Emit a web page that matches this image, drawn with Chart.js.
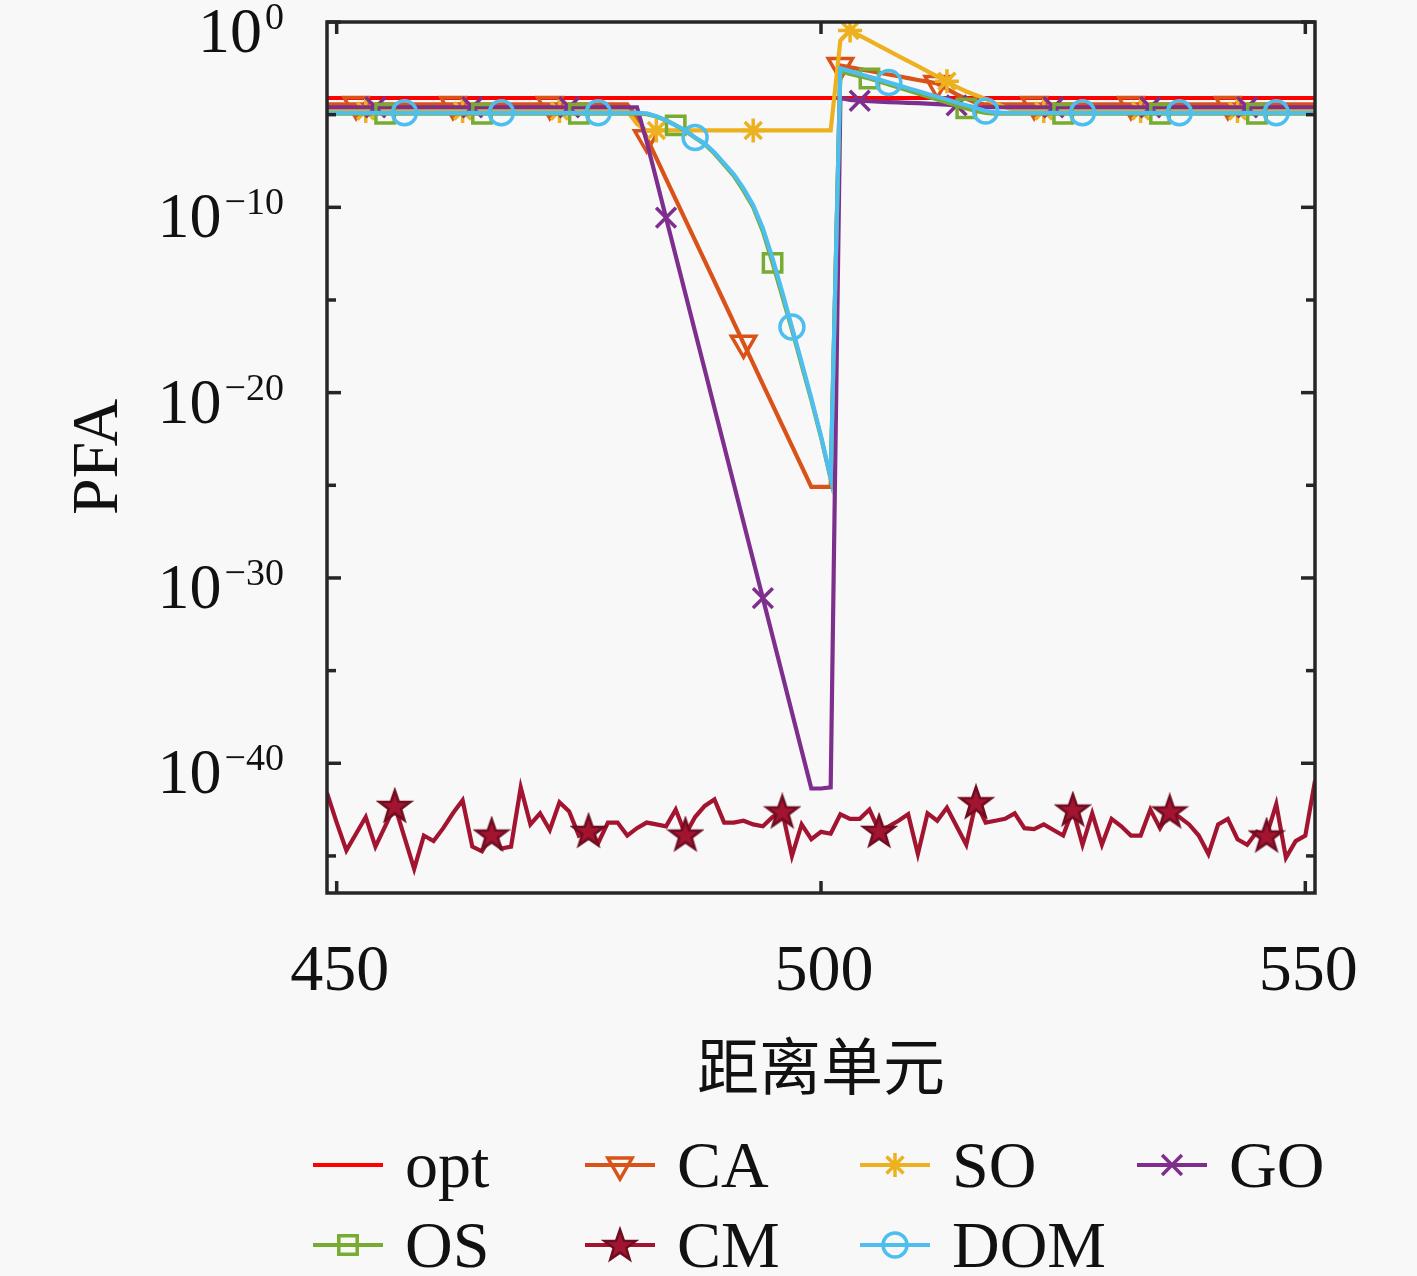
<!DOCTYPE html>
<html>
<head>
<meta charset="utf-8">
<title>PFA</title>
<script src="https://cdn.jsdelivr.net/npm/chart.js@4.4.1/dist/chart.umd.min.js"></script>
<style>
  html, body { margin: 0; padding: 0; background: #f8f8f8; }
  #wrap { width: 1417px; height: 1276px; }
</style>
</head>
<body>
<div id="wrap"><canvas id="chart" width="1417" height="1276"></canvas></div>
<script>
// range cells 449..551, one value per cell
const cells = Array.from({ length: 103 }, (_, i) => 449 + i);

// values are log10(PFA)
const optCells = [449, 551];
const optLog = [-4.1, -4.1];

const caLog = [
  -4.45,
  -4.45, -4.45, -4.45, -4.45, -4.45, -4.45, -4.45, -4.45, -4.45, -4.45,
  -4.45, -4.45, -4.45, -4.45, -4.45, -4.45, -4.45, -4.45, -4.45, -4.45,
  -4.45, -4.45, -4.45, -4.45, -4.45, -4.45, -4.45, -4.45, -4.45, -4.45,
  -4.45, -5.13, -6.24, -7.35, -8.46, -9.57, -10.68, -11.78, -12.89, -14.0,
  -15.11, -16.22, -17.33, -18.44, -19.55, -20.66, -21.77, -22.87, -23.98, -25.09,
  -25.09, -25.09, -2.35, -2.45, -2.54, -2.64, -2.74, -2.83, -2.93, -3.03,
  -3.13, -3.22, -3.32, -3.6, -3.9, -4.15, -4.35, -4.45, -4.45, -4.45,
  -4.45, -4.45, -4.45, -4.45, -4.45, -4.45, -4.45, -4.45, -4.45, -4.45,
  -4.45, -4.45, -4.45, -4.45, -4.45, -4.45, -4.45, -4.45, -4.45, -4.45,
  -4.45, -4.45, -4.45, -4.45, -4.45, -4.45, -4.45, -4.45, -4.45, -4.45,
  -4.45, -4.45
];

const soLog = [
  -4.8,
  -4.8, -4.8, -4.8, -4.8, -4.8, -4.8, -4.8, -4.8, -4.8, -4.8,
  -4.8, -4.8, -4.8, -4.8, -4.8, -4.8, -4.8, -4.8, -4.8, -4.8,
  -4.8, -4.8, -4.8, -4.8, -4.8, -4.8, -4.8, -4.8, -4.8, -4.8,
  -4.8, -5.5, -5.85, -5.85, -5.85, -5.85, -5.85, -5.85, -5.85, -5.85,
  -5.85, -5.85, -5.85, -5.85, -5.85, -5.85, -5.85, -5.85, -5.85, -5.85,
  -5.85, -5.85, -1.0, -0.46, -0.74, -1.01, -1.29, -1.56, -1.84, -2.11,
  -2.38, -2.66, -2.93, -3.2, -3.5, -3.75, -3.95, -4.15, -4.4, -4.6,
  -4.75, -4.8, -4.8, -4.8, -4.8, -4.8, -4.8, -4.8, -4.8, -4.8,
  -4.8, -4.8, -4.8, -4.8, -4.8, -4.8, -4.8, -4.8, -4.8, -4.8,
  -4.8, -4.8, -4.8, -4.8, -4.8, -4.8, -4.8, -4.8, -4.8, -4.8,
  -4.8, -4.8
];

const goLog = [
  -4.6,
  -4.6, -4.6, -4.6, -4.6, -4.6, -4.6, -4.6, -4.6, -4.6, -4.6,
  -4.6, -4.6, -4.6, -4.6, -4.6, -4.6, -4.6, -4.6, -4.6, -4.6,
  -4.6, -4.6, -4.6, -4.6, -4.6, -4.6, -4.6, -4.6, -4.6, -4.6,
  -4.6, -4.6, -6.45, -8.5, -10.56, -12.61, -14.66, -16.72, -18.77, -20.83,
  -22.88, -24.93, -26.99, -29.04, -31.09, -33.15, -35.2, -37.26, -39.31, -41.36,
  -41.36, -41.3, -4.1, -4.2, -4.25, -4.27, -4.3, -4.32, -4.34, -4.36,
  -4.38, -4.4, -4.43, -4.46, -4.5, -4.55, -4.6, -4.6, -4.6, -4.6,
  -4.6, -4.6, -4.6, -4.6, -4.6, -4.6, -4.6, -4.6, -4.6, -4.6,
  -4.6, -4.6, -4.6, -4.6, -4.6, -4.6, -4.6, -4.6, -4.6, -4.6,
  -4.6, -4.6, -4.6, -4.6, -4.6, -4.6, -4.6, -4.6, -4.6, -4.6,
  -4.6, -4.6
];

const osLog = [
  -4.95,
  -4.95, -4.95, -4.95, -4.95, -4.95, -4.95, -4.95, -4.95, -4.95, -4.95,
  -4.95, -4.95, -4.95, -4.95, -4.95, -4.95, -4.95, -4.95, -4.95, -4.95,
  -4.95, -4.95, -4.95, -4.95, -4.95, -4.95, -4.95, -4.95, -4.95, -4.95,
  -4.95, -4.95, -4.97, -5.1, -5.3, -5.58, -5.88, -6.25, -6.6, -7.1,
  -7.7, -8.3, -9.1, -10.0, -11.3, -13.0, -14.8, -16.6, -18.5, -20.4,
  -22.4, -24.65, -2.65, -2.8, -2.92, -3.05, -3.21, -3.37, -3.53, -3.69,
  -3.86, -4.02, -4.18, -4.34, -4.5, -4.66, -4.8, -4.9, -4.95, -4.95,
  -4.95, -4.95, -4.95, -4.95, -4.95, -4.95, -4.95, -4.95, -4.95, -4.95,
  -4.95, -4.95, -4.95, -4.95, -4.95, -4.95, -4.95, -4.95, -4.95, -4.95,
  -4.95, -4.95, -4.95, -4.95, -4.95, -4.95, -4.95, -4.95, -4.95, -4.95,
  -4.95, -4.95
];

const cmLog = [
  -41.6,
  -43.2, -44.7, -43.8, -42.9, -44.5, -43.4, -42.3, -44.0, -45.7, -43.9,
  -44.2, -43.5, -42.7, -42.0, -44.5, -44.75, -43.85, -44.6, -44.5, -41.3,
  -43.3, -42.7, -43.6, -42.1, -42.6, -43.9, -43.65, -44.3, -43.2, -43.2,
  -43.9, -43.5, -43.2, -43.3, -43.4, -42.5, -43.85, -42.9, -42.3, -41.95,
  -43.2, -43.2, -43.1, -43.3, -43.4, -42.9, -42.6, -45.0, -43.3, -44.1,
  -43.7, -43.8, -42.75, -43.0, -43.0, -42.5, -43.65, -43.4, -43.1, -42.75,
  -44.9, -42.7, -43.1, -42.4, -43.4, -44.4, -42.1, -43.2, -43.1, -43.0,
  -42.7, -43.5, -43.55, -43.3, -43.6, -43.9, -42.5, -44.4, -42.7, -44.4,
  -43.0, -43.4, -43.9, -43.9, -42.5, -43.5, -42.6, -42.9, -43.3, -43.9,
  -44.9, -43.3, -43.0, -44.1, -44.4, -43.7, -43.9, -42.2, -45.1, -44.2,
  -43.9, -40.95
];

const domLog = [
  -4.9,
  -4.9, -4.9, -4.9, -4.9, -4.9, -4.9, -4.9, -4.9, -4.9, -4.9,
  -4.9, -4.9, -4.9, -4.9, -4.9, -4.9, -4.9, -4.9, -4.9, -4.9,
  -4.9, -4.9, -4.9, -4.9, -4.9, -4.9, -4.9, -4.9, -4.9, -4.9,
  -4.9, -4.9, -4.93, -5.09, -5.31, -5.58, -5.85, -6.23, -6.55, -7.04,
  -7.63, -8.22, -8.98, -9.89, -11.13, -12.75, -14.58, -16.46, -18.36, -20.3,
  -22.35, -24.61, -2.5, -2.65, -2.81, -2.96, -3.11, -3.27, -3.42, -3.57,
  -3.72, -3.88, -4.03, -4.18, -4.34, -4.49, -4.64, -4.8, -4.88, -4.9,
  -4.9, -4.9, -4.9, -4.9, -4.9, -4.9, -4.9, -4.9, -4.9, -4.9,
  -4.9, -4.9, -4.9, -4.9, -4.9, -4.9, -4.9, -4.9, -4.9, -4.9,
  -4.9, -4.9, -4.9, -4.9, -4.9, -4.9, -4.9, -4.9, -4.9, -4.9,
  -4.9, -4.9
];

// axis ticks
const xTicks = [450, 500, 550];
const yMajorExp = [0, -10, -20, -30, -40];
const yMinorExp = [-5, -15, -25, -35, -45];

const serif = '"Liberation Serif", "DejaVu Serif", serif';

// MATLAB-like 'pentagram' marker for CM
function makePentagram(color) {
  const c = document.createElement('canvas');
  c.width = 38; c.height = 38;
  const g = c.getContext('2d');
  const R = 16.5, r = 6.6;
  g.beginPath();
  for (let k = 0; k < 10; k++) {
    const ang = -Math.PI / 2 + k * Math.PI / 5;
    const rr = k % 2 === 0 ? R : r;
    const px = 19 + rr * Math.cos(ang), py = 20 + rr * Math.sin(ang);
    k === 0 ? g.moveTo(px, py) : g.lineTo(px, py);
  }
  g.closePath();
  g.fillStyle = color;
  g.fill();
  g.lineWidth = 2.5;
  g.strokeStyle = '#6e0d20';
  g.stroke();
  return c;
}

function toPoints(xs, logs) {
  return xs.map((c, i) => ({ x: c, y: Math.pow(10, logs[i]) }));
}

function series(label, logs, color, style, offset, radius, extra) {
  return Object.assign({
    label: label,
    data: toPoints(cells, logs),
    borderColor: color,
    borderWidth: 4.2,
    tension: 0,
    pointStyle: style,
    pointRadius: ctx => ((cells[ctx.dataIndex] - offset) % 10 === 0 ? radius : 0),
    pointHoverRadius: 0,
    pointBorderColor: color,
    pointBackgroundColor: 'rgba(0,0,0,0)',
    pointBorderWidth: 3.5,
    markerRadius: radius
  }, extra || {});
}

const cmStar = makePentagram('#A2142F');

const datasets = [
  {
    label: 'opt', data: toPoints(optCells, optLog), borderColor: '#FF0000',
    borderWidth: 4.2, pointRadius: 0, pointHoverRadius: 0, order: 7, markerRadius: 0
  },
  series('CA', caLog, '#D95319', 'triangle', 2, 14, { pointRotation: 180, order: 6 }),
  series('SO', soLog, '#EDB120', 'star', 3, 12, { order: 5 }),
  series('GO', goLog, '#7E2F8E', 'crossRot', 4, 14, { order: 4 }),
  series('OS', osLog, '#77AC30', 'rect', 5, 13, { order: 3 }),
  series('CM', cmLog, '#A2142F', cmStar, 6, 14, { order: 2 }),
  series('DOM', domLog, '#4DBEEE', 'circle', 7, 12, { order: 1 })
];

function seg(ctx, x1, y1, x2, y2) {
  ctx.beginPath(); ctx.moveTo(x1, y1); ctx.lineTo(x2, y2); ctx.stroke();
}

const backgroundPlugin = {
  id: 'bg',
  beforeDraw(chart) {
    const ctx = chart.ctx;
    ctx.save();
    ctx.fillStyle = '#f8f8f8';
    ctx.fillRect(0, 0, chart.width, chart.height);
    ctx.restore();
  }
};

// box, inward ticks, tick labels, axis titles, legend
const framePlugin = {
  id: 'frame',
  afterDraw(chart) {
    const { ctx, chartArea: a } = chart;
    const xs = chart.scales.x, ys = chart.scales.y;
    ctx.save();
    ctx.strokeStyle = '#262626';
    ctx.lineWidth = 3.5;
    ctx.strokeRect(a.left, a.top, a.right - a.left, a.bottom - a.top);

    xTicks.forEach(v => {
      const px = xs.getPixelForValue(v);
      seg(ctx, px, a.bottom, px, a.bottom - 12);
      seg(ctx, px, a.top, px, a.top + 12);
    });
    yMajorExp.forEach(e => {
      const py = ys.getPixelForValue(Math.pow(10, e));
      seg(ctx, a.left, py, a.left + 14, py);
      seg(ctx, a.right, py, a.right - 14, py);
    });
    yMinorExp.forEach(e => {
      const py = ys.getPixelForValue(Math.pow(10, e));
      seg(ctx, a.left, py, a.left + 9, py);
      seg(ctx, a.right, py, a.right - 9, py);
    });

    ctx.fillStyle = '#111';
    ctx.textBaseline = 'alphabetic';
    ctx.font = '66px ' + serif;
    ctx.textAlign = 'center';
    xTicks.forEach(v => ctx.fillText(String(v), xs.getPixelForValue(v) + 3, 990));

    yMajorExp.forEach(e => {
      const py = ys.getPixelForValue(Math.pow(10, e));
      const exp = e === 0 ? '0' : '\u2212' + Math.abs(e);
      ctx.textAlign = 'right';
      ctx.font = '38px ' + serif;
      ctx.fillText(exp, 284, py + 7);
      const w = ctx.measureText(exp).width;
      ctx.font = '64px ' + serif;
      ctx.fillText('10', 284 - w - 3, py + 30);
    });

    // axis titles
    ctx.font = '62px "Noto Sans CJK SC", sans-serif';
    ctx.textAlign = 'center';
    ctx.textBaseline = 'middle';
    ctx.fillText('距离单元', (a.left + a.right) / 2, 1066);

    ctx.save();
    ctx.translate(117, 457);
    ctx.rotate(-Math.PI / 2);
    ctx.font = '66px ' + serif;
    ctx.textBaseline = 'alphabetic';
    ctx.fillText('PFA', 0, 0);
    ctx.restore();

    // legend: 4 columns, 2 rows
    const colX = [313, 585, 860, 1137];
    const rowY = [1165, 1245];
    const sets = chart.data.datasets;
    sets.forEach((ds, i) => {
      const x0 = colX[i % 4], y0 = rowY[Math.floor(i / 4)];
      ctx.strokeStyle = ds.borderColor;
      ctx.lineWidth = 4.2;
      seg(ctx, x0, y0, x0 + 70, y0);
      if (ds.markerRadius && Chart.helpers && Chart.helpers.drawPoint) {
        ctx.fillStyle = typeof ds.pointStyle === 'string' ? 'rgba(0,0,0,0)' : ds.borderColor;
        ctx.lineWidth = 3.5;
        Chart.helpers.drawPoint(ctx, {
          pointStyle: ds.pointStyle,
          rotation: ds.pointRotation || 0,
          radius: ds.markerRadius,
          borderWidth: 3.5
        }, x0 + 35, y0);
      }
      ctx.fillStyle = '#111';
      ctx.font = '66px ' + serif;
      ctx.textAlign = 'left';
      ctx.textBaseline = 'alphabetic';
      ctx.fillText(ds.label, x0 + 92, y0 + 22);
    });
    ctx.restore();
  }
};

new Chart(document.getElementById('chart'), {
  type: 'line',
  data: { datasets: datasets },
  options: {
    responsive: false,
    animation: false,
    events: [],
    layout: { padding: { left: 327, right: 102, top: 22, bottom: 383 } },
    plugins: { legend: { display: false }, tooltip: { enabled: false } },
    scales: {
      x: { type: 'linear', min: 449, max: 551, display: false },
      y: { type: 'logarithmic', min: 1e-47, max: 1, display: false }
    }
  },
  plugins: [backgroundPlugin, framePlugin]
});
</script>
</body>
</html>
